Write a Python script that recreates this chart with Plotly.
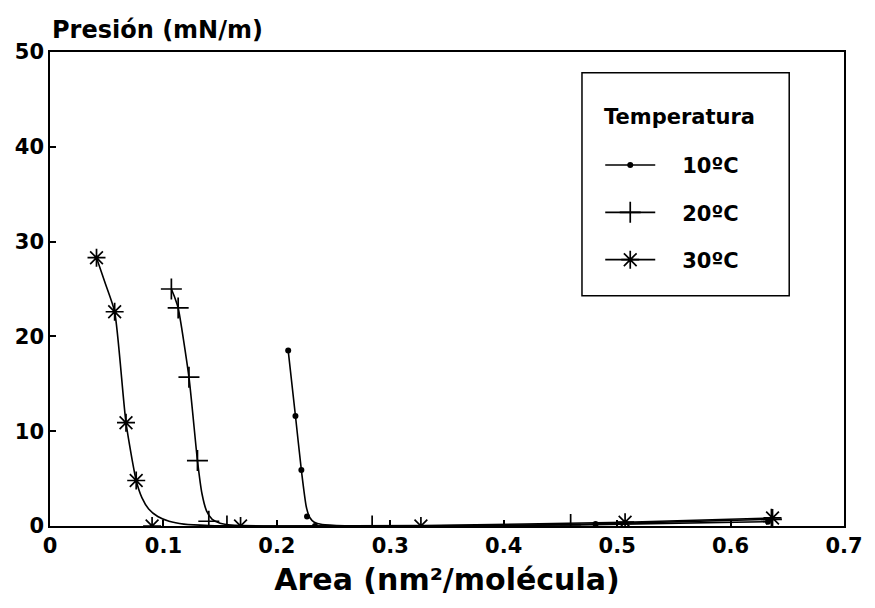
import plotly.graph_objects as go

# Measured isotherm points: molecular area (nm²/molécula) vs surface pressure (mN/m)
area_10 = [0.210, 0.2164, 0.2216, 0.2266, 0.2336, 0.481, 0.633]
pres_10 = [18.5, 11.6, 5.9, 1.0, 0.0, 0.2, 0.45]

area_20 = [0.107, 0.113, 0.1225, 0.130, 0.140, 0.156, 0.284, 0.459, 0.636]
pres_20 = [25.0, 23.0, 15.7, 6.9, 0.5, 0.0, 0.0, 0.15, 0.7]

area_30 = [0.041, 0.057, 0.067, 0.076, 0.090, 0.168, 0.327, 0.507, 0.637]
pres_30 = [28.3, 22.6, 10.9, 4.8, 0.0, 0.0, 0.0, 0.4, 0.85]

# Hand-fitted smooth curves through each isotherm
fit_area_10 = [0.210, 0.2164, 0.2216, 0.226, 0.229, 0.233, 0.240, 0.260, 0.350, 0.480, 0.633]
fit_pres_10 = [18.5, 11.6, 5.9, 2.0, 0.9, 0.4, 0.15, 0.03, 0.0, 0.15, 0.45]

fit_area_20 = [0.107, 0.110, 0.113, 0.1225, 0.130, 0.134, 0.138, 0.143, 0.150, 0.160, 0.200,
               0.300, 0.460, 0.636]
fit_pres_20 = [25.0, 24.1, 23.0, 15.7, 6.9, 3.4, 1.6, 0.7, 0.3, 0.1, 0.0,
               0.0, 0.15, 0.7]

fit_area_30 = [0.041, 0.049, 0.057, 0.067, 0.076, 0.081, 0.087, 0.095, 0.105, 0.118, 0.140,
               0.200, 0.330, 0.507, 0.637]
fit_pres_30 = [28.3, 25.5, 22.6, 10.9, 4.8, 3.0, 1.8, 1.0, 0.5, 0.2, 0.05,
               0.0, 0.05, 0.4, 0.85]

x_ticks = [0, 0.1, 0.2, 0.3, 0.4, 0.5, 0.6, 0.7]
x_tick_text = ["0", "0.1", "0.2", "0.3", "0.4", "0.5", "0.6", "0.7"]
y_ticks = [0, 10, 20, 30, 40, 50]

labels = ["10ºC", "20ºC", "30ºC"]

FONT = "DejaVu Sans"
INK = "black"
PAD = "\u00a0\u00a0\u00a0"

series = [
    (fit_area_10, fit_pres_10, area_10, pres_10, dict(symbol="circle", size=6, color=INK)),
    (fit_area_20, fit_pres_20, area_20, pres_20,
     dict(symbol="cross-thin", size=15, color=INK, line=dict(color=INK, width=1.7))),
    (fit_area_30, fit_pres_30, area_30, pres_30,
     dict(symbol="asterisk", size=15, color=INK, line=dict(color=INK, width=1.7))),
]

fig = go.Figure()
for i, (fx, fy, px, py, mk) in enumerate(series):
    fig.add_trace(go.Scatter(x=fx, y=fy, mode="lines", showlegend=False,
                             line=dict(color=INK, width=1.6, shape="spline", smoothing=0.6),
                             hoverinfo="skip"))
    fig.add_trace(go.Scatter(x=px, y=py, mode="markers", showlegend=False, marker=mk))
    # legend entry: line with the series symbol
    fig.add_trace(go.Scatter(x=[None], y=[None], mode="lines+markers", name=PAD + labels[i],
                             legendgroup=labels[i],
                             line=dict(color=INK, width=1.6), marker=mk))

axis_common = dict(
    showline=True, linecolor=INK, linewidth=1.5, mirror=True,
    ticks="inside", ticklen=6, tickwidth=1.5, tickcolor=INK,
    showgrid=False, zeroline=False,
    tickfont=dict(family=FONT, size=21, color=INK, weight="bold"),
)

fig.update_layout(
    width=875, height=608,
    margin=dict(l=50, r=23, t=52, b=82),
    paper_bgcolor="white", plot_bgcolor="white",
    xaxis=dict(range=[0, 0.7], tickvals=x_ticks, ticktext=x_tick_text,
               title=dict(text="Area (nm²/molécula)", standoff=12,
                          font=dict(family=FONT, size=30, color=INK, weight="bold")),
               **axis_common),
    yaxis=dict(range=[0, 50], tickvals=y_ticks, **axis_common),
    legend=dict(
        x=0.693, y=0.804, xanchor="left", yanchor="top",
        bgcolor="rgba(0,0,0,0)", borderwidth=0,
        font=dict(family=FONT, size=21, color=INK, weight="bold"),
        tracegroupgap=17, itemwidth=50,
    ),
    shapes=[dict(type="rect", xref="paper", yref="paper",
                 x0=0.670, x1=0.931, y0=0.486, y1=0.956,
                 line=dict(color=INK, width=1.5))],
    annotations=[
        dict(text="Presión (mN/m)", xref="paper", yref="paper",
             x=0, y=1.0, xanchor="left", yanchor="bottom", yshift=6,
             showarrow=False,
             font=dict(family=FONT, size=24, color=INK, weight="bold")),
        dict(text="Temperatura", xref="paper", yref="paper",
             x=0.695, y=0.863, xanchor="left", yanchor="middle",
             showarrow=False,
             font=dict(family=FONT, size=21, color=INK, weight="bold")),
    ],
)

fig.write_html("out.html")
